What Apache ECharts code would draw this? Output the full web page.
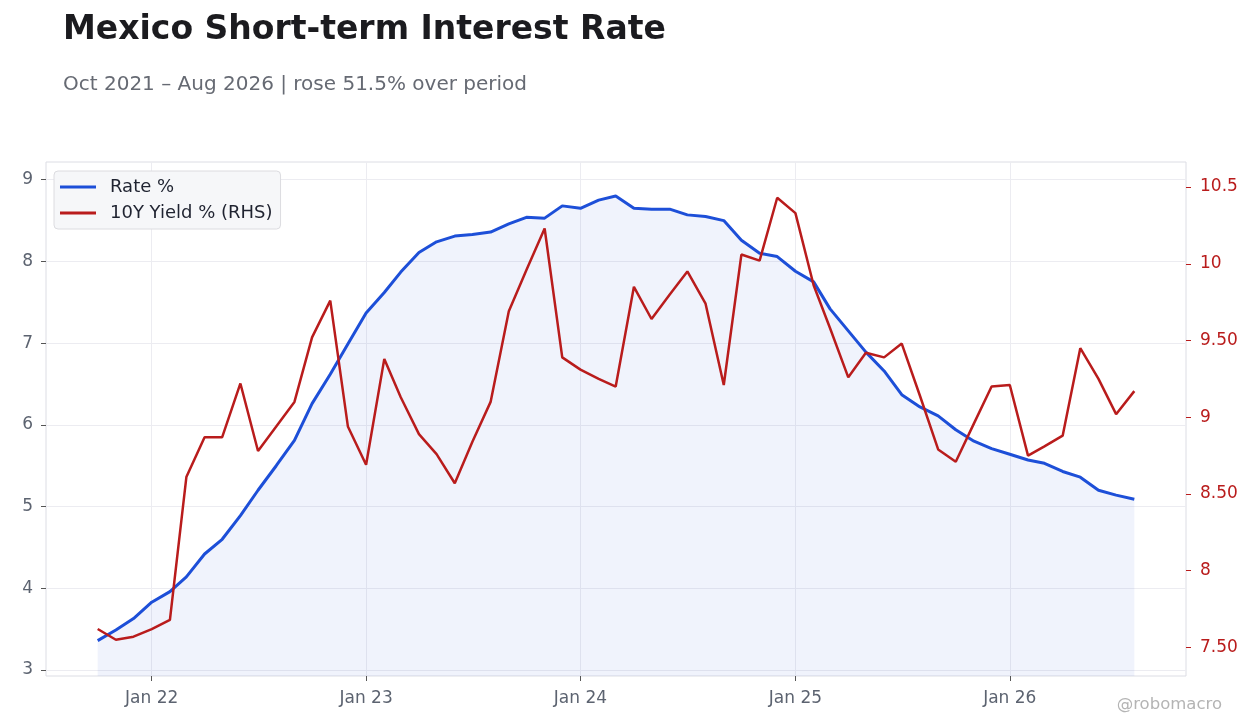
<!DOCTYPE html>
<html>
<head>
<meta charset="utf-8">
<title>Mexico Short-term Interest Rate</title>
<script src="https://cdn.jsdelivr.net/npm/echarts@6/dist/echarts.min.js"></script>
<style>
  html, body { margin: 0; padding: 0; background: #ffffff; }
  #chart { width: 1260px; height: 728px; }
</style>
</head>
<body>
<div id="chart"></div>
<script>
// monthly observations, Oct 2021 .. Aug 2026
const months = [
  '2021-10','2021-11','2021-12',
  '2022-01','2022-02','2022-03','2022-04','2022-05','2022-06','2022-07','2022-08','2022-09','2022-10','2022-11','2022-12',
  '2023-01','2023-02','2023-03','2023-04','2023-05','2023-06','2023-07','2023-08','2023-09','2023-10','2023-11','2023-12',
  '2024-01','2024-02','2024-03','2024-04','2024-05','2024-06','2024-07','2024-08','2024-09','2024-10','2024-11','2024-12',
  '2025-01','2025-02','2025-03','2025-04','2025-05','2025-06','2025-07','2025-08','2025-09','2025-10','2025-11','2025-12',
  '2026-01','2026-02','2026-03','2026-04','2026-05','2026-06','2026-07','2026-08'
]
const rate = [
  3.36, 3.49, 3.63,
  3.83, 3.96, 4.14, 4.42, 4.60, 4.89, 5.20, 5.50, 5.81, 6.26, 6.62, 6.99,
  7.37, 7.62, 7.87, 8.11, 8.24, 8.31, 8.33, 8.36, 8.46, 8.54, 8.53, 8.68,
  8.65, 8.75, 8.80, 8.65, 8.64, 8.64, 8.57, 8.55, 8.50, 8.26, 8.10, 8.06,
  7.88, 7.75, 7.42, 7.15, 6.89, 6.66, 6.37, 6.22, 6.11, 5.94, 5.80, 5.71,
  5.64, 5.57, 5.53, 5.43, 5.36, 5.20, 5.14, 5.09
]
const yield10y = [
  7.62, 7.55, 7.57,
  7.62, 7.68, 8.61, 8.87, 8.87, 9.22, 8.78, 8.94, 9.10, 9.52, 9.76, 8.94,
  8.69, 9.38, 9.13, 8.89, 8.76, 8.57, 8.84, 9.10, 9.69, 9.96, 10.23, 9.39,
  9.31, 9.25, 9.20, 9.85, 9.64, 9.80, 9.95, 9.74, 9.21, 10.06, 10.02, 10.43,
  10.33, 9.86, 9.58, 9.26, 9.42, 9.39, 9.48, 9.14, 8.79, 8.71, 8.96, 9.20,
  9.21, 8.75, 8.81, 8.88, 9.45, 9.25, 9.02, 9.17
]
const xTickMonths = ['2022-01','2023-01','2024-01','2025-01','2026-01']
const xTickLabels = ['Jan 22','Jan 23','Jan 24','Jan 25','Jan 26']
const lhsTicks = [3, 4, 5, 6, 7, 8, 9]
const rhsTicks = [7.5, 8, 8.5, 9, 9.5, 10, 10.5]
const rhsTickLabels = ['7.50','8','8.50','9','9.50','10','10.5']

const ts = (m) => Date.UTC(+m.slice(0, 4), +m.slice(5, 7) - 1, 1)
const DAY = 86400000

const blue = '#1d4fd8'
const red = '#b91c1c'
const axisGrey = '#5c6370'
const gridLine = '#ececf1'
const frame = '#dcdde4'
const font = '"DejaVu Sans", sans-serif'

const xTicks = xTickMonths.map(ts)

let myChart = echarts.init(document.getElementById('chart'))
myChart.setOption({
  animation: false,
  backgroundColor: '#ffffff',
  textStyle: { fontFamily: font },
  title: [
    {
      text: 'Mexico Short-term Interest Rate',
      left: 63, top: 14, padding: 0,
      textStyle: { fontFamily: font, fontSize: 33, fontWeight: 'bold', color: '#1b1b1f' }
    },
    {
      text: 'Oct 2021 \u2013 Aug 2026 | rose 51.5% over period',
      left: 63, top: 75, padding: 0,
      textStyle: { fontFamily: font, fontSize: 20, fontWeight: 'normal', color: '#666a73' }
    },
    {
      text: '@robomacro',
      right: 38, top: 696, padding: 0,
      textStyle: { fontFamily: font, fontSize: 16.5, fontWeight: 'normal', color: '#b4b4b4' }
    }
  ],
  legend: {
    left: 54, top: 171,
    orient: 'vertical',
    icon: 'rect',
    itemWidth: 36, itemHeight: 3,
    itemGap: 8,
    padding: [7, 8, 7, 6],
    backgroundColor: '#f6f7f9',
    borderColor: '#dcdce0',
    borderWidth: 1,
    borderRadius: 4,
    textStyle: { fontFamily: font, fontSize: 18, color: '#1f2330', padding: [0, 0, 0, 9] },
    data: ['Rate %', '10Y Yield % (RHS)']
  },
  grid: {
    left: 46, right: 74, top: 162, bottom: 52,
    show: true, borderColor: frame, borderWidth: 1
  },
  xAxis: {
    type: 'value',
    min: ts('2021-10') - 88 * DAY,
    max: ts('2026-08') + 88 * DAY,
    axisLine: { show: false },
    axisTick: { show: true, length: 5, lineStyle: { color: '#555' }, customValues: xTicks },
    axisLabel: {
      customValues: xTicks,
      margin: 14,
      fontFamily: font, fontSize: 17, color: axisGrey,
      formatter: (v) => {
        const i = xTicks.indexOf(v)
        return i >= 0 ? xTickLabels[i] : ''
      }
    },
    splitLine: { show: true, lineStyle: { color: gridLine, width: 1 } }
  },
  yAxis: [
    {
      type: 'value',
      position: 'left',
      min: 2.927, max: 9.217,
      axisLine: { show: false },
      axisTick: { show: true, length: 5, lineStyle: { color: '#555' }, customValues: lhsTicks },
      axisLabel: {
        customValues: lhsTicks,
        margin: 13,
        fontFamily: font, fontSize: 17, color: axisGrey
      },
      splitLine: { show: true, lineStyle: { color: gridLine, width: 1 } }
    },
    {
      type: 'value',
      position: 'right',
      min: 7.314, max: 10.663,
      axisLine: { show: false },
      axisTick: { show: true, length: 5, lineStyle: { color: red }, customValues: rhsTicks },
      axisLabel: {
        customValues: rhsTicks,
        margin: 14,
        fontFamily: font, fontSize: 17, color: red,
        formatter: (v) => {
          const i = rhsTicks.findIndex(t => Math.abs(t - v) < 1e-6)
          return i >= 0 ? rhsTickLabels[i] : ''
        }
      },
      splitLine: { show: false }
    }
  ],
  series: [
    {
      name: 'Rate %',
      type: 'line',
      yAxisIndex: 0,
      symbol: 'none',
      data: months.map((m, i) => [ts(m), rate[i]]),
      lineStyle: { color: blue, width: 3 },
      itemStyle: { color: blue },
      areaStyle: { color: 'rgba(29,79,216,0.095)', origin: 'start' },
      z: 2
    },
    {
      name: '10Y Yield % (RHS)',
      type: 'line',
      yAxisIndex: 1,
      symbol: 'none',
      data: months.map((m, i) => [ts(m), yield10y[i]]),
      lineStyle: { color: red, width: 2.5 },
      itemStyle: { color: red },
      z: 3
    }
  ]
})
</script>
</body>
</html>
